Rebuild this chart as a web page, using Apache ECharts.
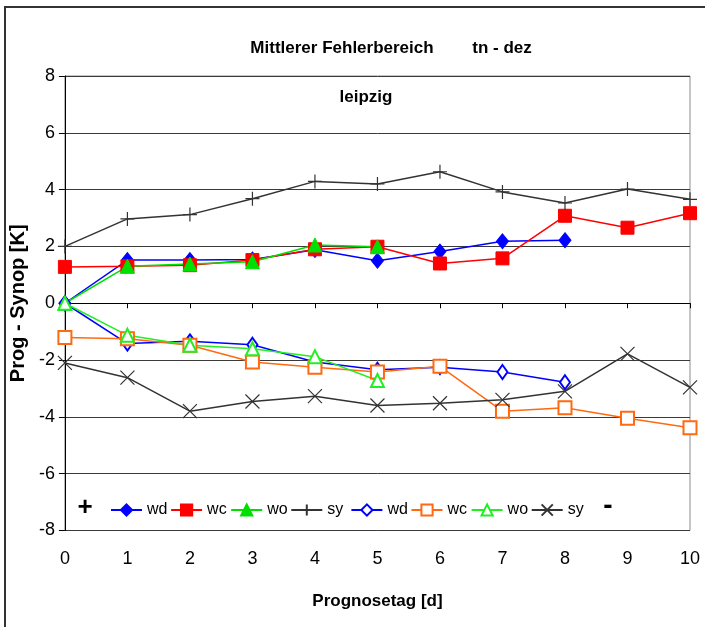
<!DOCTYPE html>
<html>
<head>
<meta charset="utf-8">
<script src="https://cdn.jsdelivr.net/npm/echarts@6/dist/echarts.min.js"></script>
<style>
  html, body { margin: 0; padding: 0; background: #fff; }
  #chart { width: 705px; height: 627px; }
</style>
</head>
<body>
<div id="chart"></div>
<script>
// Prognosetag [d]
const days = ["0", "1", "2", "3", "4", "5", "6", "7", "8", "9", "10"];

// obere Kurven (gefuellte Symbole)
const wdUp = [0, 1.52, 1.52, 1.54, 1.88, 1.5, 1.82, 2.18, 2.22];
const wcUp = [1.28, 1.3, 1.34, 1.52, 1.9, 1.99, 1.4, 1.58, 3.08, 2.66, 3.17];
const woUp = [0, 1.3, 1.38, 1.46, 2.05, 1.99];
const syUp = [2.0, 2.97, 3.12, 3.68, 4.29, 4.2, 4.63, 3.92, 3.53, 4.02, 3.66];

// untere Kurven (offene Symbole)
const wdLow = [0, -1.42, -1.34, -1.46, -2.07, -2.34, -2.25, -2.42, -2.78];
const wcLow = [-1.21, -1.25, -1.48, -2.07, -2.25, -2.42, -2.22, -3.8, -3.68, -4.05, -4.38];
const woLow = [0, -1.13, -1.48, -1.6, -1.88, -2.72];
const syLow = [-2.1, -2.62, -3.8, -3.46, -3.27, -3.6, -3.52, -3.4, -3.1, -1.78, -2.96];

const yTicks = [-8, -6, -4, -2, 0, 2, 4, 6, 8];
const legendNames = ["wd", "wc", "wo", "sy", "wd_l", "wc_l", "wo_l", "sy_l"];

const FONT = "Liberation Sans, Arial, sans-serif";
const plusPath = "path://M5,0 L5,10 M0,5 L10,5";
const crossPath = "path://M0,0 L10,10 M10,0 L0,10";

function mkSerie(name, data, color, symbol, size, extra) {
  return Object.assign({
    name,
    type: "line",
    data,
    symbol,
    symbolSize: size,
    color,
    lineStyle: { color, width: 1.5 },
    itemStyle: { color, borderColor: color, borderWidth: 1 },
    emphasis: { disabled: true },
    animation: false
  }, extra || {});
}

// je ein Legendeneintrag mit festem Abstand (wie im Original)
const legends = legendNames.map((n, i) => ({
  data: [n],
  left: 110 + i * 60.1,
  top: 502,
  padding: 0,
  itemWidth: 31,
  itemHeight: 14,
  formatter: s => s.split("_")[0],
  textStyle: { fontSize: 16, color: "#000", fontFamily: FONT }
}));

const chart = echarts.init(document.getElementById("chart"));

chart.setOption({
  backgroundColor: "#fff",
  textStyle: { fontFamily: FONT },
  grid: {
    left: 64,
    right: 15,
    top: 76,
    bottom: 96.5,
    show: true,
    borderColor: "#8c8c8c",
    borderWidth: 1
  },
  legend: legends,
  xAxis: {
    type: "category",
    data: days,
    boundaryGap: false,
    name: "Prognosetag [d]",
    nameLocation: "middle",
    nameGap: 62,
    nameTextStyle: { fontSize: 17, fontWeight: "bold", color: "#000" },
    axisLine: { lineStyle: { color: "#000", width: 1 } },
    axisTick: { show: true, length: 5, lineStyle: { color: "#000" } },
    axisLabel: { fontSize: 18, color: "#000", margin: 20 },
    splitLine: { show: false }
  },
  yAxis: {
    type: "value",
    min: yTicks[0],
    max: yTicks[yTicks.length - 1],
    interval: 2,
    name: "Prog - Synop [K]",
    nameLocation: "middle",
    nameGap: 35,
    nameRotate: 90,
    nameTextStyle: { fontSize: 20, fontWeight: "bold", color: "#000" },
    axisLine: { show: true, lineStyle: { color: "#000", width: 1 } },
    axisTick: { show: true, length: 6, lineStyle: { color: "#000" } },
    axisLabel: { fontSize: 18, color: "#000", margin: 10 },
    splitLine: { show: true, lineStyle: { color: "#3a3a3a", width: 1 } }
  },
  graphic: [
    {
      type: "rect",
      shape: { x: 5, y: 7, width: 720, height: 640 },
      style: { fill: "none", stroke: "#333", lineWidth: 2 },
      silent: true
    },
    {
      type: "text", x: 342, y: 48,
      style: { text: "Mittlerer Fehlerbereich", font: "bold 17px " + FONT, fill: "#000", align: "center", verticalAlign: "middle" }
    },
    {
      type: "text", x: 502, y: 48,
      style: { text: "tn - dez", font: "bold 17px " + FONT, fill: "#000", align: "center", verticalAlign: "middle" }
    },
    {
      type: "text", x: 366, y: 97,
      style: { text: "leipzig", font: "bold 17px " + FONT, fill: "#000", align: "center", verticalAlign: "middle" }
    },
    {
      type: "text", x: 85, y: 508,
      style: { text: "+", font: "bold 26px " + FONT, fill: "#000", align: "center", verticalAlign: "middle" }
    },
    {
      type: "text", x: 608, y: 506,
      style: { text: "-", font: "bold 28px " + FONT, fill: "#000", align: "center", verticalAlign: "middle" }
    }
  ],
  series: [
    mkSerie("wd", wdUp, "#0000ff", "diamond", [12, 15]),
    mkSerie("wc", wcUp, "#ff0000", "rect", 13),
    mkSerie("wo", woUp, "#00e000", "triangle", 14),
    mkSerie("sy", syUp, "#333333", plusPath, 14, {
      itemStyle: { color: "#333333", borderColor: "#333333", borderWidth: 1.2 }
    }),
    mkSerie("wd_l", wdLow, "#0000ff", "emptyDiamond", [10, 14], {
      itemStyle: { color: "#0000ff", borderColor: "#0000ff", borderWidth: 1.3 }
    }),
    mkSerie("wc_l", wcLow, "#ff6a10", "emptyRect", 13, {
      itemStyle: { color: "#ff6a10", borderColor: "#ff6a10", borderWidth: 1.5 }
    }),
    mkSerie("wo_l", woLow, "#22ee22", "emptyTriangle", 13, {
      itemStyle: { color: "#22ee22", borderColor: "#22ee22", borderWidth: 1.3 }
    }),
    mkSerie("sy_l", syLow, "#333333", crossPath, 14, {
      itemStyle: { color: "#333333", borderColor: "#333333", borderWidth: 1.2 }
    })
  ]
});
</script>
</body>
</html>
